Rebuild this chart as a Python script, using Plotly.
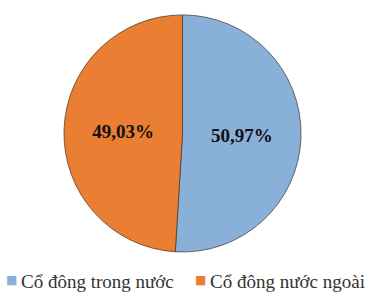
import plotly.graph_objects as go

labels = ["Cổ đông trong nước", "Cổ đông nước ngoài"]
values = [50.97, 49.03]
text_labels = ["50,97%", "49,03%"]
colors = ["#88B0D8", "#EA7E33"]

fig = go.Figure(go.Pie(
    labels=labels,
    values=values,
    text=text_labels,
    texttemplate="%{text}",
    textposition="inside",
    insidetextorientation="horizontal",
    sort=False,
    direction="clockwise",
    rotation=0,
    marker=dict(colors=colors, line=dict(color="rgba(70,50,40,0.7)", width=1)),
    textfont=dict(family="Liberation Serif", size=19, color="#111111", weight="bold"),
    domain=dict(x=[0.167, 0.809], y=[0.137, 0.949]),
    hoverinfo="skip",
    showlegend=False,
))

# Legend drawn as annotations (compact marker-text spacing as in the reference)
square_x = [4 / 374, 193 / 374]
text_x = [19 / 374, 208 / 374]
for lab, col, sx, tx in zip(labels, colors, square_x, text_x):
    fig.add_annotation(
        x=sx, y=12 / 292, xref="paper", yref="paper",
        xanchor="left", yanchor="middle",
        text="■", showarrow=False,
        font=dict(family="DejaVu Sans", size=12, color=col),
    )
    fig.add_annotation(
        x=tx, y=11 / 292, xref="paper", yref="paper",
        xanchor="left", yanchor="middle",
        text=lab, showarrow=False,
        font=dict(family="Liberation Serif", size=19, color="#333333"),
    )

fig.update_layout(
    width=374, height=292,
    margin=dict(l=0, r=0, t=0, b=0),
    paper_bgcolor="white",
    plot_bgcolor="white",
    showlegend=False,
)

fig.write_html("out.html",
               config={"displayModeBar": False},
               post_script="document.body.style.margin='0';document.body.style.overflow='hidden';")
